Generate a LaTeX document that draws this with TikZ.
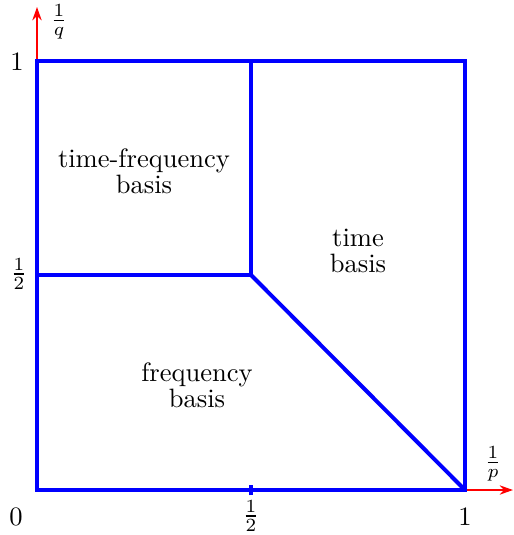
\documentclass[tikz,border=0pt]{standalone}
\usetikzlibrary{arrows.meta}
\begin{document}
\begin{tikzpicture}[x=0.3765pt,y=-0.3765pt,
  region/.style={draw=blue,line width=1.5pt},
  axis/.style={draw=red,line width=0.8pt,-{Stealth[length=5pt,width=3.5pt]}},
  lbl/.style={inner sep=0pt,align=center},
  tick/.style={inner sep=0pt}]
\useasboundingbox (0,0) rectangle (513,535);
\coordinate (O) at (37,490);
\coordinate (A) at (465,490);
\coordinate (B) at (465,61);
\coordinate (C) at (37,61);
\coordinate (H) at (37,275);
\coordinate (M) at (251,275);
\coordinate (T) at (251,61);
\coordinate (P) at (251,490);
\coordinate (Qend) at (37,7);
\coordinate (Pend) at (513,490);
\draw[axis] (C) -- (Qend);
\draw[axis] (A) -- (Pend);
\draw[region] (O) -- (A) -- (B) -- (C) -- cycle;
\draw[region] (H) -- (M) -- (T);
\draw[region] (M) -- (A);
\draw[draw=blue,line width=1.5pt] ([yshift=-2pt]P) -- ([yshift=2pt]P);
\node[lbl] (tf) at (144,171) {time-frequency\\[-2.2pt]basis};
\node[lbl] (tb) at (358,251) {time\\[-2.2pt]basis};
\node[lbl] (fb) at (197,385) {frequency\\[-2.2pt]basis};
\node[tick] (l1y) at (17,62) {1};
\node[tick] (lhy) at (19,274) {$\frac{1}{2}$};
\node[tick] (l0) at (16,517) {0};
\node[tick] (lhx) at (251,516) {$\frac{1}{2}$};
\node[tick] (l1x) at (465,517) {1};
\node[tick] (lq) at (59,22) {$\frac{1}{q}$};
\node[tick] (lp) at (493,464) {$\frac{1}{p}$};
\end{tikzpicture}
\end{document}
